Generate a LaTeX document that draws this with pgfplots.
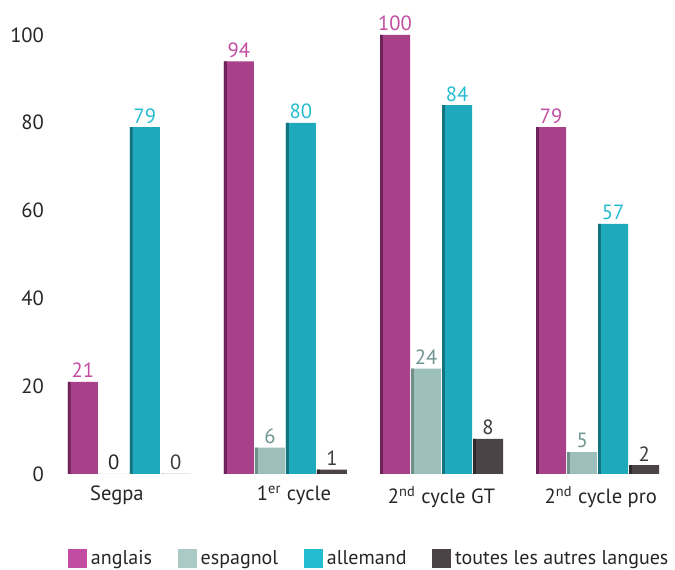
\documentclass[border=0pt]{standalone}
\usepackage{fontspec}
\setmainfont{PT Sans}
\usepackage{pgfplots}
\pgfplotsset{compat=1.18}

\definecolor{cang}{HTML}{A8408A}
\definecolor{cangd}{HTML}{6E2458}
\definecolor{cangl}{HTML}{C24CA2}
\definecolor{cesp}{HTML}{9CBFBB}
\definecolor{cespd}{HTML}{6F8F8B}
\definecolor{cespl}{HTML}{6E9490}
\definecolor{call}{HTML}{1FA9BC}
\definecolor{calld}{HTML}{137480}
\definecolor{calll}{HTML}{24BCD0}
\definecolor{caut}{HTML}{4A4446}
\definecolor{cautd}{HTML}{2E2A2B}
\definecolor{cautl}{HTML}{3C3A3B}
\definecolor{ctxt}{HTML}{262626}

\newcommand{\zerodark}{\pgfmathfloattofixed{\pgfplotspointmeta}%
  \ifdim\pgfmathresult pt<0.5pt \color{ctxt}\fi}
\newcommand{\lbl}{\fontsize{10.3}{12}\selectfont}
\newcommand{\leg}{\fontsize{10}{12}\selectfont}

\pgfplotstableread{
x ang esp all aut
0 21  0   79  0
1 94  6   80  1
2 100 24  84  8
3 79  5   57  2
}\langues

\begin{document}
\begin{tikzpicture}
\begin{axis}[
  scale only axis,
  width=307.5pt, height=219.5pt,
  xmin=-0.47, xmax=3.47,
  ymin=0, ymax=100,
  ybar, bar width=15pt,
  axis line style={draw=none},
  ytick={0,20,40,60,80,100},
  xtick={-0.08,1.055,2,3.02},
  xticklabels={Segpa, 1\textsuperscript{er} cycle, 2\textsuperscript{nd} cycle GT, 2\textsuperscript{nd} cycle pro},
  major tick length=0pt,
  tick label style={font=\lbl, text=ctxt},
  yticklabel style={xshift=-2.5pt},
  xticklabel style={yshift=-2.5pt},
  /pgf/number format/assume math mode=true,
  every node near coord/.append style={font=\lbl, yshift=-1.6pt},
  legend style={draw=none, fill=none, inner sep=0pt, outer sep=0pt,
    at={(rel axis cs:0.0195,0)}, anchor=north west,
    yshift=-36pt, legend columns=4, font=\leg, text=ctxt,
    /tikz/every even column/.append style={column sep=10.8pt}},
  legend cell align=left,
]
\addplot[draw=none, fill=cang, bar shift=-23.25pt, nodes near coords,
  nodes near coords style={text=cangl},
  legend image code/.code={\fill[cangl] (0pt,-4.75pt) rectangle (9.5pt,4.75pt);}]
  table[x=x, y=ang] {\langues};
\addlegendentry{anglais}
\addplot[draw=none, fill=cesp, bar shift=-7.75pt, nodes near coords,
  nodes near coords style={text=cespl},
  nodes near coords={\zerodark\pgfmathprintnumber{\pgfplotspointmeta}},
  legend image code/.code={\fill[cesp!85!white] (0pt,-4.75pt) rectangle (9.5pt,4.75pt);}]
  table[x=x, y=esp] {\langues};
\addlegendentry{espagnol}
\addplot[draw=none, fill=call, bar shift=7.75pt, nodes near coords,
  nodes near coords style={text=calll},
  legend image code/.code={\fill[calll] (0pt,-4.75pt) rectangle (9.5pt,4.75pt);}]
  table[x=x, y=all] {\langues};
\addlegendentry{allemand}
\addplot[draw=none, fill=caut, bar shift=23.25pt, nodes near coords,
  nodes near coords style={text=cautl},
  legend image code/.code={\fill[caut] (0pt,-4.75pt) rectangle (9.5pt,4.75pt);}]
  table[x=x, y=aut] {\langues};
\addlegendentry{toutes les autres langues}
% dark strips on the left side of the bars
\addplot[forget plot, draw=none, fill=cangd, bar width=1.4pt, bar shift=-30.05pt]
  table[x=x, y=ang] {\langues};
\addplot[forget plot, draw=none, fill=cespd, bar width=1.4pt, bar shift=-14.55pt]
  table[x=x, y=esp] {\langues};
\addplot[forget plot, draw=none, fill=calld, bar width=1.4pt, bar shift=0.95pt]
  table[x=x, y=all] {\langues};
\addplot[forget plot, draw=none, fill=cautd, bar width=1.4pt, bar shift=16.45pt]
  table[x=x, y=aut] {\langues};
\coordinate (A) at (rel axis cs:0,0);
\coordinate (B) at (rel axis cs:1,1);
\end{axis}
\pgfresetboundingbox
\path[use as bounding box] ([shift={(-28pt,-48pt)}]A) rectangle ([shift={(2pt,17.5pt)}]B);
\end{tikzpicture}
\end{document}
